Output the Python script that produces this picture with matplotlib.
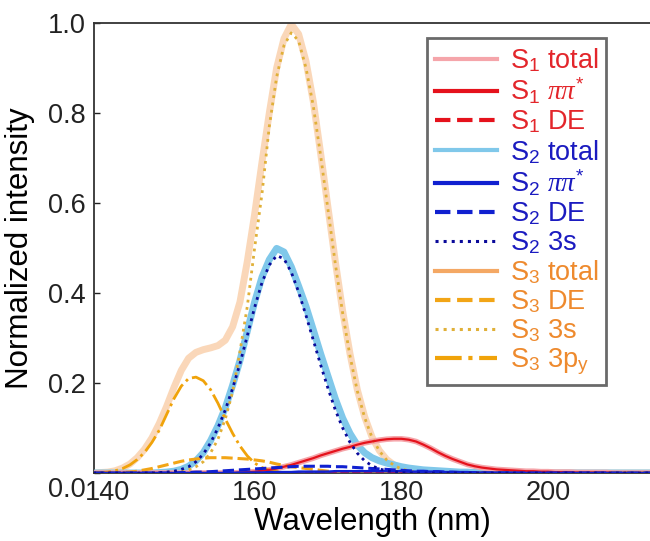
import numpy as np
import matplotlib
matplotlib.use("Agg")
import matplotlib.pyplot as plt
import matplotlib.transforms as mtransforms
from matplotlib.lines import Line2D

plt.rcParams['font.family'] = ['Liberation Sans', 'DejaVu Sans']
plt.rcParams['mathtext.fontset'] = 'custom'
plt.rcParams['mathtext.rm'] = 'Liberation Sans'
plt.rcParams['mathtext.it'] = 'Liberation Serif:italic'
plt.rcParams['mathtext.bf'] = 'Liberation Sans:bold'

# wavelength grid (nm)
wavelength = list(range(138, 215))

s1_total = [0]*20 + [0.001, 0.002, 0.003, 0.005, 0.007, 0.010, 0.014, 0.018, 0.023, 0.028,
                     0.033, 0.039, 0.044, 0.049, 0.054, 0.058, 0.063, 0.067, 0.070, 0.073,
                     0.075, 0.076, 0.076, 0.074, 0.070, 0.063, 0.055, 0.046, 0.038, 0.031,
                     0.025, 0.019, 0.015, 0.012, 0.010, 0.008, 0.007, 0.006, 0.005, 0.004,
                     0.004, 0.003, 0.003, 0.002, 0.002, 0.002, 0.001, 0.001, 0.001, 0.001,
                     0.001] + [0]*6
s1_pipi = [0]*20 + [0.001, 0.002, 0.003, 0.005, 0.007, 0.010, 0.014, 0.018, 0.023, 0.028,
                    0.033, 0.039, 0.044, 0.049, 0.054, 0.058, 0.063, 0.067, 0.070, 0.073,
                    0.075, 0.076, 0.076, 0.074, 0.070, 0.063, 0.055, 0.046, 0.038, 0.031,
                    0.025, 0.019, 0.015, 0.012, 0.010, 0.008, 0.007, 0.006, 0.005, 0.004,
                    0.004, 0.003, 0.003, 0.002, 0.002, 0.002, 0.001, 0.001, 0.001, 0.001,
                    0.001] + [0]*6
s1_de = [0]*77

s2_total = [0]*8 + [0.0, 0.001, 0.002, 0.004, 0.008, 0.015, 0.027, 0.045, 0.072, 0.105,
                    0.145, 0.195, 0.250, 0.315, 0.380, 0.435, 0.474, 0.499, 0.491, 0.458,
                    0.415, 0.370, 0.318, 0.265, 0.215, 0.165, 0.122, 0.088, 0.062, 0.045,
                    0.034, 0.027, 0.022, 0.018, 0.014, 0.011, 0.009, 0.007, 0.006, 0.005,
                    0.004, 0.003, 0.002, 0.002, 0.001, 0.001, 0.001] + [0]*22
s2_pipi = [0]*20 + [0.001, 0.001, 0.001, 0.001, 0.002, 0.002, 0.002, 0.002, 0.003, 0.003,
                    0.003, 0.003, 0.003, 0.004, 0.004, 0.004, 0.004, 0.004, 0.004, 0.004,
                    0.004, 0.004, 0.004, 0.003, 0.003, 0.003, 0.003, 0.003, 0.002, 0.002,
                    0.002, 0.002, 0.001, 0.001, 0.001, 0.001, 0.001, 0.001] + [0]*19
s2_de = [0]*12 + [0.001, 0.001, 0.002, 0.002, 0.003, 0.004, 0.005, 0.006, 0.007, 0.008,
                  0.009, 0.010, 0.011, 0.012, 0.013, 0.014, 0.015, 0.015, 0.015, 0.015,
                  0.015, 0.014, 0.014, 0.013, 0.012, 0.011, 0.010, 0.009, 0.008, 0.007,
                  0.006, 0.005, 0.004, 0.004, 0.003, 0.003, 0.002, 0.002, 0.001, 0.001,
                  0.001] + [0]*24
s2_3s = [0]*9 + [0.001, 0.002, 0.004, 0.008, 0.014, 0.025, 0.042, 0.067, 0.100, 0.140,
                 0.188, 0.243, 0.305, 0.368, 0.423, 0.462, 0.483, 0.476, 0.446, 0.402,
                 0.350, 0.295, 0.240, 0.188, 0.140, 0.100, 0.068, 0.044, 0.027, 0.016,
                 0.009, 0.005, 0.003, 0.001] + [0]*34

s3_total = [0.0, 0.001, 0.002, 0.005, 0.011, 0.020, 0.034, 0.053, 0.078, 0.110,
            0.148, 0.190, 0.228, 0.255, 0.268, 0.274, 0.278, 0.283, 0.295, 0.325,
            0.380, 0.470, 0.575, 0.690, 0.800, 0.900, 0.965, 0.997, 0.975, 0.915,
            0.825, 0.710, 0.590, 0.470, 0.360, 0.265, 0.185, 0.125, 0.080, 0.050,
            0.030, 0.018, 0.010, 0.005, 0.003, 0.001] + [0]*31
s3_de = [0]*4 + [0.001, 0.002, 0.004, 0.007, 0.010, 0.014, 0.018, 0.022, 0.026, 0.029,
                 0.031, 0.033, 0.034, 0.034, 0.034, 0.033, 0.032, 0.031, 0.029, 0.027,
                 0.024, 0.020, 0.017, 0.014, 0.012, 0.010, 0.008, 0.006, 0.004, 0.003,
                 0.002, 0.001] + [0]*41
s3_3s = [0]*10 + [0.001, 0.002, 0.003, 0.007, 0.014, 0.025, 0.045, 0.075, 0.120, 0.180,
                  0.270, 0.370, 0.500, 0.620, 0.770, 0.880, 0.950, 0.978, 0.960, 0.900,
                  0.815, 0.705, 0.585, 0.465, 0.355, 0.260, 0.182, 0.123, 0.079, 0.049,
                  0.029, 0.017, 0.009, 0.005, 0.002, 0.001] + [0]*31
s3_3py = [0.0, 0.001, 0.002, 0.005, 0.010, 0.018, 0.030, 0.046, 0.068, 0.095,
          0.130, 0.165, 0.193, 0.210, 0.213, 0.205, 0.185, 0.155, 0.120, 0.088,
          0.060, 0.038, 0.022, 0.012, 0.006, 0.003, 0.001] + [0]*50

labels = [r"S$_1$ total", r"S$_1$ $\pi\pi^{*}$", r"S$_1$ DE",
          r"S$_2$ total", r"S$_2$ $\pi\pi^{*}$", r"S$_2$ DE", r"S$_2$ 3s",
          r"S$_3$ total", r"S$_3$ DE", r"S$_3$ 3s", r"S$_3$ 3p$_\mathrm{y}$"]

C1_TOT, C1 = '#F5A5AA', '#E5121C'
C2_TOT, C2, C2_DOT = '#80C8EA', '#1020D0', '#0A0A9A'
C3_TOT, C3_DE, C3_DOT, C3_DD = '#F4A864', '#F2A516', '#E0B038', '#F0A30A'
T1, T2, T3 = '#E3262B', '#1B1BC0', '#EE8A2E'

fig = plt.figure(figsize=(6.5, 5.41), dpi=100)
ax = fig.add_axes([0.1446, 0.1257, 0.8554, 0.832])

x = np.array(wavelength)
kw = dict(solid_joinstyle='round', solid_capstyle='round')
ax.plot(x, s3_total, color=C3_TOT, lw=5, alpha=0.45, zorder=2, **kw)
ax.plot(x, s2_total, color=C2_TOT, lw=5, zorder=3, **kw)
ax.plot(x, s1_total, color=C1_TOT, lw=4, zorder=3, **kw)
ax.plot(x, s1_pipi, color=C1, lw=1.6, zorder=5, **kw)
ax.plot(x, s1_de, color=C1, lw=1.6, ls='--', zorder=5)
ax.plot(x, s2_pipi, color=C2, lw=1.8, zorder=5, **kw)
ax.plot(x, s2_de, color=C2, lw=2.2, ls='--', zorder=5)
ax.plot(x, s2_3s, color=C2_DOT, lw=2.0, ls=':', zorder=6)
ax.plot(x, s3_de, color=C3_DE, lw=2.2, ls='--', zorder=4)
ax.plot(x, s3_3s, color=C3_DOT, lw=2.0, ls=':', zorder=4)
ax.plot(x, s3_3py, color=C3_DD, lw=2.0, ls='-.', zorder=4)

ax.set_xlim(138.1, 213.9)
ax.set_ylim(0, 1.0)
ax.set_xticks([140, 160, 180, 200])
ax.set_yticks([0.0, 0.2, 0.4, 0.6, 0.8, 1.0])
ax.set_yticklabels(['0.0', '0.2', '0.4', '0.6', '0.8', '1.0'])
ax.tick_params(axis='both', direction='in', labelsize=19.5, colors='#222222')
ax.tick_params(axis='y', length=4.5, width=1.0, pad=6)
ax.tick_params(axis='x', length=2.5, width=1.0, pad=5)
ax.spines['right'].set_visible(False)
for s in ['left', 'top', 'bottom']:
    ax.spines[s].set_linewidth(1.3)
    ax.spines[s].set_color('#333333')
ax.set_xlabel('Wavelength (nm)', fontsize=22.5, labelpad=1)
ax.set_ylabel('Normalized intensity', fontsize=22.5, labelpad=9)

# the "0.0" label sits lower, level with the x tick labels
off = mtransforms.ScaledTranslation(0, -14/100, fig.dpi_scale_trans)
lab0 = ax.get_yticklabels()[0]
lab0.set_transform(lab0.get_transform() + off)

handles = [
    Line2D([], [], color=C1_TOT, lw=3),
    Line2D([], [], color=C1, lw=3),
    Line2D([], [], color=C1, lw=3, ls='--'),
    Line2D([], [], color=C2_TOT, lw=3),
    Line2D([], [], color=C2, lw=3),
    Line2D([], [], color=C2, lw=3, ls='--'),
    Line2D([], [], color=C2_DOT, lw=2.2, ls=':'),
    Line2D([], [], color=C3_TOT, lw=3),
    Line2D([], [], color=C3_DE, lw=3, ls='--'),
    Line2D([], [], color=C3_DOT, lw=2.2, ls=':'),
    Line2D([], [], color=C3_DD, lw=3, ls='-.'),
]
leg = ax.legend(handles, labels, loc='upper left',
                bbox_to_anchor=(427/650, 1-38/541), bbox_transform=fig.transFigure,
                borderaxespad=0, fontsize=19.5, handlelength=2.3, handletextpad=0.45,
                labelspacing=0.08, borderpad=0.3, fancybox=False, framealpha=1)
leg.get_frame().set_edgecolor('#6a6a6a')
leg.get_frame().set_linewidth(2)
text_colors = [T1]*3 + [T2]*4 + [T3]*4
for t, c in zip(leg.get_texts(), text_colors):
    t.set_color(c)

fig.savefig('out.png', dpi=100)
